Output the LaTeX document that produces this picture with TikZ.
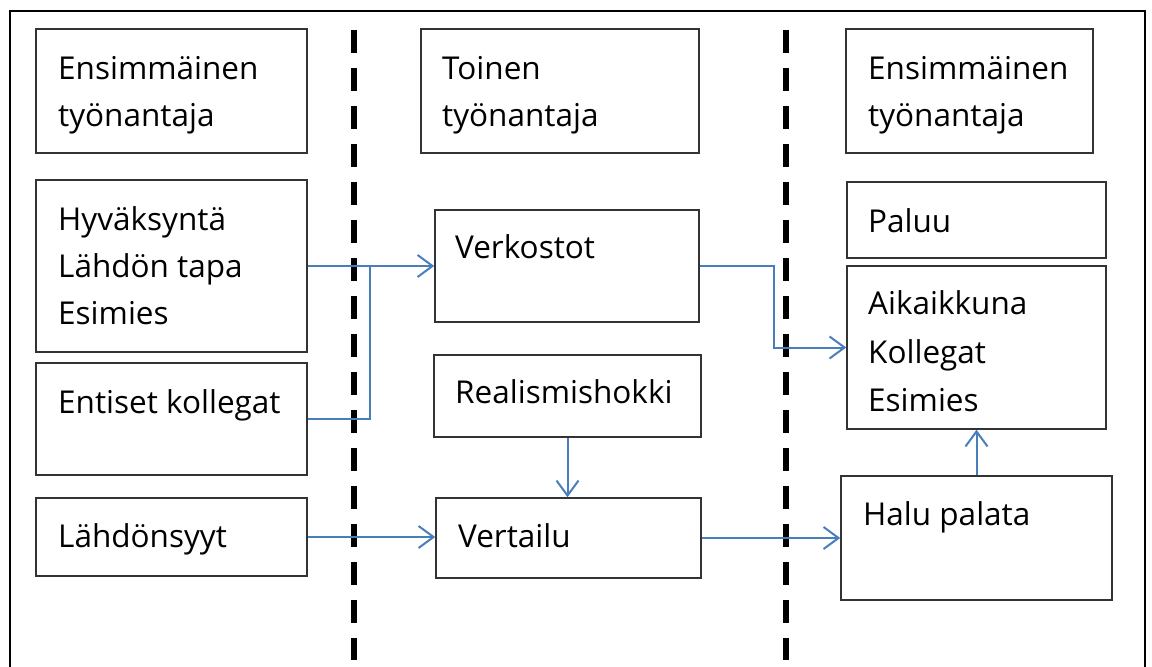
\documentclass[tikz,border=0pt]{standalone}
\usepackage{fontspec}
\setmainfont{Open Sans}
\usetikzlibrary{arrows.meta}
\definecolor{wordblue}{HTML}{4A7EBB}
\definecolor{boxgray}{HTML}{333333}
\tikzset{
  box/.style={draw=boxgray, line width=1.5pt, rectangle, inner sep=0pt, fill=white},
  txt/.style={anchor=base west, inner sep=0pt, font=\fontsize{31.5}{36}\selectfont, text=black},
  arr/.style={draw=wordblue, line width=2pt, -{Straight Barb[length=15pt, width=22pt, line width=2pt]}},
  conn/.style={draw=wordblue, line width=2pt},
  divider/.style={draw=black, line width=6.5pt, dash pattern=on 23pt off 15pt},
  frame/.style={draw=black, line width=2.2pt}
}
\newcommand{\mybox}[5]{\node[box, minimum width=#4pt-#2pt, minimum height=#5pt-#3pt] (#1) at ({(#2+#4)/2},{(#3+#5)/2}) {};}
\begin{document}
\begin{tikzpicture}[x=1pt, y=-1pt]
\useasboundingbox (0,0) rectangle (1152,667);
\fill[white] (0,0) rectangle (1152,667);
% outer frame
\draw[frame] (10,667) -- (10,11) -- (1145,11) -- (1145,667);
% dividers
\draw[divider] (354,30) coordinate (d1a) -- (354,660) coordinate (d1b);
\draw[divider] (786,30) coordinate (d2a) -- (786,660) coordinate (d2b);
% boxes
\mybox{e1}{36}{29}{307}{153}
\mybox{t2}{421}{29}{699}{153}
\mybox{e3}{846}{29}{1093}{153}
\mybox{hyv}{36}{180}{307}{352}
\mybox{ent}{36}{363}{307}{475}
\mybox{lahd}{36}{498}{307}{576}
\mybox{verk}{435}{210}{699}{322}
\mybox{real}{434}{355}{701}{437}
\mybox{vert}{436}{498}{701}{578}
\mybox{paluu}{847}{182}{1106}{258}
\mybox{aik}{847}{266}{1106}{429}
\mybox{halu}{841}{476}{1112}{600}
% texts
\node[txt] (e1a) at (58,79) {Ensimmäinen};
\node[txt] (e1b) at (58,126) {työnantaja};
\node[txt] (t2a) at (442,79) {Toinen};
\node[txt] (t2b) at (442,126) {työnantaja};
\node[txt] (e3a) at (868,79) {Ensimmäinen};
\node[txt] (e3b) at (868,126) {työnantaja};
\node[txt] (hyva) at (58,230) {Hyväksyntä};
\node[txt] (hyvb) at (58,277) {Lähdön tapa};
\node[txt] (hyvc) at (58,324) {Esimies};
\node[txt] (enta) at (58,413) {Entiset kollegat};
\node[txt] (lahda) at (58,547) {Lähdönsyyt};
\node[txt] (verka) at (455,258) {Verkostot};
\node[txt] (reala) at (455,403) {Realismishokki};
\node[txt] (verta) at (458,547) {Vertailu};
\node[txt] (palua) at (868,232) {Paluu};
\node[txt] (aika) at (868,314) {Aikaikkuna};
\node[txt] (aikb) at (868,363) {Kollegat};
\node[txt] (aikc) at (868,411) {Esimies};
\node[txt] (halua) at (863,525) {Halu palata};
% connectors
\coordinate (j) at (370,266);
\draw[arr] (hyv.east) -- (hyv.east -| verk.west);
\draw[conn] (ent.east) -| (j);
\draw[arr] (verk.east) -- ++(74,0) |- (aik.west);
\draw[arr] (real.south) -- (real.south |- vert.north);
\draw[arr] (lahd.east) -- (lahd.east -| vert.west);
\draw[arr] (halu.west -| vert.east) -- (halu.west);
\draw[arr] (halu.north) -- (halu.north |- aik.south);
\end{tikzpicture}
\end{document}
